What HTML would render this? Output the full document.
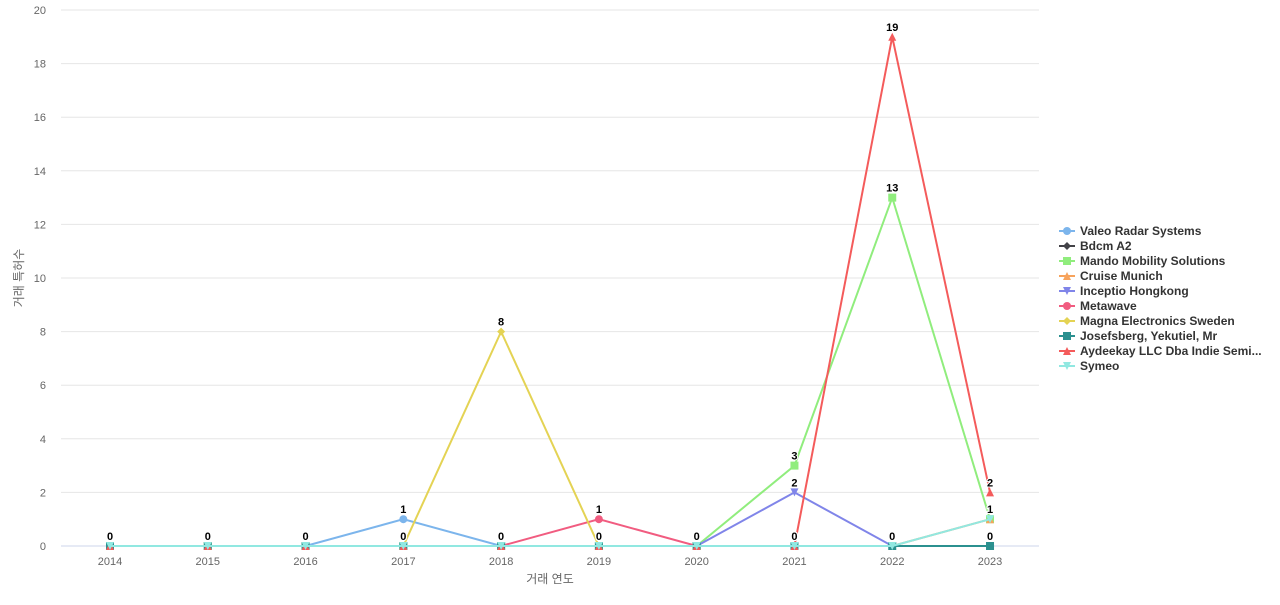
<!DOCTYPE html>
<html><head><meta charset="utf-8"><style>
body{margin:0;background:#fff;width:1280px;height:600px;overflow:hidden;font-family:"Liberation Sans","Noto Sans CJK KR",sans-serif}
</style></head><body>
<svg id="c" width="1280" height="600" xmlns="http://www.w3.org/2000/svg" font-family="Liberation Sans, Noto Sans CJK KR, sans-serif"></svg>
<script>
const s=document.getElementById('c');let h='';
const X=i=>110+i*97.78, Y=v=>546-v*26.8;
for(let v=0;v<=20;v+=2){const y=Y(v);h+=`<line x1="61" x2="1039" y1="${y}" y2="${y}" stroke="${v?'#e6e6e6':'#ccd6eb'}"/>`;h+=`<text x="46" y="${y+4}" text-anchor="end" font-size="11" fill="#666">${v}</text>`;}
for(let i=0;i<10;i++)h+=`<text x="${X(i)}" y="565" text-anchor="middle" font-size="11" fill="#666">${2014+i}</text>`;
h+=`<text x="550" y="583" text-anchor="middle" font-size="12" fill="#666">거래 연도</text>`;
h+=`<text transform="translate(23,278) rotate(-90)" text-anchor="middle" font-size="12" fill="#666">거래 특허수</text>`;
const S=[
['Valeo Radar Systems','#7cb5ec','circle',[0,0,0,1,0,0,0,0,0,0]],
['Bdcm A2','#434348','diamond',[0,0,0,0,0,0,0,0,0,0]],
['Mando Mobility Solutions','#90ed7d','square',[0,0,0,0,0,0,0,3,13,1]],
['Cruise Munich','#f7a35c','tri',[0,0,0,0,0,0,0,0,0,1]],
['Inceptio Hongkong','#8085e9','tridown',[0,0,0,0,0,0,0,2,0,0]],
['Metawave','#f15c80','circle',[0,0,0,0,0,1,0,0,0,0]],
['Magna Electronics Sweden','#e4d354','diamond',[0,0,0,0,8,0,0,0,0,0]],
['Josefsberg, Yekutiel, Mr','#2b908f','square',[0,0,0,0,0,0,0,0,0,0]],
['Aydeekay LLC Dba Indie Semi...','#f45b5b','tri',[0,0,0,0,0,0,0,0,19,2]],
['Symeo','#91e8e1','tridown',[0,0,0,0,0,0,0,0,0,1]]];
function mk(t,x,y,c,r){if(t=='circle')return `<circle cx="${x}" cy="${y}" r="${r}" fill="${c}"/>`;
if(t=='square')return `<rect x="${x-r}" y="${y-r}" width="${2*r}" height="${2*r}" fill="${c}"/>`;
if(t=='diamond')return `<path d="M${x} ${y-r}L${x+r} ${y}L${x} ${y+r}L${x-r} ${y}Z" fill="${c}"/>`;
if(t=='tri')return `<path d="M${x} ${y-r}L${x+r} ${y+r}L${x-r} ${y+r}Z" fill="${c}"/>`;
return `<path d="M${x-r} ${y-r}L${x+r} ${y-r}L${x} ${y+r}Z" fill="${c}"/>`;}
let lab='';
S.forEach(([n,c,t,d])=>{h+=`<polyline fill="none" stroke="${c}" stroke-width="2" points="${d.map((v,i)=>X(i)+','+Y(v)).join(' ')}"/>`;
d.forEach((v,i)=>{h+=mk(t,X(i),Y(v),c,4);lab+=`<text x="${X(i)}" y="${Y(v)-6}" text-anchor="middle" font-size="11" font-weight="bold" fill="#000" stroke="#fff" stroke-width="2" paint-order="stroke">${v}</text>`;});});
h+=lab;
S.forEach(([n,c,t],k)=>{const y=231+k*15;h+=`<line x1="1059" x2="1075" y1="${y}" y2="${y}" stroke="${c}" stroke-width="2"/>`+mk(t,1067,y,c,4)+`<text x="1080" y="${y+4}" font-size="12" font-weight="bold" fill="#333">${n}</text>`;});
s.innerHTML=h;
</script>
</body></html>
